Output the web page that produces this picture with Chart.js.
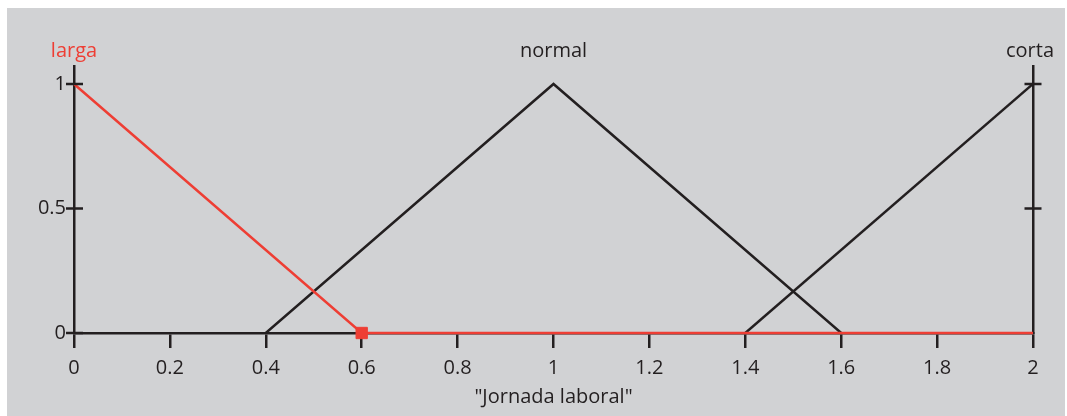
<!DOCTYPE html>
<html>
<head>
<meta charset="utf-8">
<script src="https://cdn.jsdelivr.net/npm/chart.js@4"></script>
<style>
    html, body { margin: 0; padding: 0; background: #ffffff; }
    #contenedor { position: relative; width: 1067px; height: 416px; }
    #fondo { position: absolute; left: 7px; top: 8px; width: 1058px; height: 408px; background: #d1d2d4; }
    #grafico { position: absolute; left: 0; top: 0; }
</style>
</head>
<body>
<div id="contenedor">
    <div id="fondo"></div>
    <canvas id="grafico" width="1067" height="416"></canvas>
</div>
<script>
const ROJO = '#ee3e34';
const NEGRO = '#231f20';
const FUENTE = '"Open Sans", sans-serif';

// datos (x, grado de pertenencia)
const largaX = [0, 0.6, 2];
const largaY = [1, 0, 0];
const normalX = [0.4, 1, 1.6];
const normalY = [0, 1, 0];
const cortaX = [1.4, 2];
const cortaY = [0, 1];

const etiquetas = ['larga', 'normal', 'corta'];
const posEtiquetas = [0, 1, 2];
const coloresEtiquetas = [ROJO, NEGRO, NEGRO];

const ticksX = [0, 0.2, 0.4, 0.6, 0.8, 1, 1.2, 1.4, 1.6, 1.8, 2];
const ticksY = [0, 0.5, 1];
const tituloX = '"Jornada laboral"';

const puntos = (xs, ys) => xs.map((x, i) => ({ x: x, y: ys[i] }));

// marcas en cruz sobre los ejes verticales
const marcasEjes = {
    id: 'marcasEjes',
    afterDraw(chart) {
        const { ctx, chartArea: { left, right }, scales: { y } } = chart;
        ctx.save();
        ctx.strokeStyle = NEGRO;
        ctx.lineWidth = 2.5;
        ticksY.forEach(v => {
            const py = y.getPixelForValue(v);
            ctx.beginPath();
            ctx.moveTo(left - 8, py);
            ctx.lineTo(left + 9, py);
            if (v !== 0) {
                ctx.moveTo(right - 8.5, py);
                ctx.lineTo(right + 8.5, py);
            }
            ctx.stroke();
        });
        // etiquetas de cada conjunto
        ctx.font = '20px ' + FUENTE;
        ctx.textAlign = 'center';
        ctx.textBaseline = 'middle';
        etiquetas.forEach((t, i) => {
            ctx.fillStyle = coloresEtiquetas[i];
            let px = chart.scales.x.getPixelForValue(posEtiquetas[i]);
            if (i === etiquetas.length - 1) px -= 3;
            ctx.fillText(t, px, y.getPixelForValue(1) - 33);
        });
        ctx.restore();
    }
};

new Chart(document.getElementById('grafico').getContext('2d'), {
    type: 'line',
    plugins: [marcasEjes],
    data: {
        datasets: [
            {
                data: puntos(largaX, largaY),
                borderColor: ROJO,
                backgroundColor: ROJO,
                pointBackgroundColor: ROJO,
                pointBorderColor: ROJO,
                borderWidth: 2.5,
                pointStyle: 'rect',
                pointRadius: c => c.dataIndex === 1 ? 8 : 0,
                pointBorderWidth: 1,
                clip: false,
                tension: 0
            },
            {
                data: puntos(normalX, normalY),
                borderColor: NEGRO,
                borderWidth: 2.5,
                pointRadius: 0,
                tension: 0
            },
            {
                data: puntos(cortaX, cortaY),
                borderColor: NEGRO,
                borderWidth: 2.5,
                pointRadius: 0,
                tension: 0
            }
        ]
    },
    options: {
        responsive: false,
        animation: false,
        layout: { padding: { top: 66, left: 0, right: 0, bottom: 0 } },
        plugins: {
            legend: { display: false },
            tooltip: { enabled: false }
        },
        scales: {
            x: {
                type: 'linear',
                min: 0,
                max: 2,
                afterBuildTicks: s => { s.ticks = ticksX.map(v => ({ value: v })); },
                afterFit: s => { s.height = 83; },
                ticks: {
                    color: NEGRO,
                    padding: 8,
                    maxRotation: 0,
                    font: { family: FUENTE, size: 20 },
                    callback: v => String(v)
                },
                grid: {
                    display: true,
                    drawOnChartArea: false,
                    drawTicks: true,
                    tickLength: 15,
                    color: NEGRO,
                    lineWidth: 2.5
                },
                border: { display: true, color: NEGRO, width: 2.5 },
                title: {
                    display: true,
                    text: tituloX,
                    color: NEGRO,
                    padding: { top: 0, bottom: 7 },
                    font: { family: FUENTE, size: 20 }
                }
            },
            y: {
                type: 'linear',
                position: 'left',
                min: 0,
                max: 1.072,
                afterBuildTicks: s => { s.ticks = ticksY.map(v => ({ value: v })); },
                afterFit: s => { s.width = 74; },
                ticks: {
                    color: NEGRO,
                    padding: 8,
                    font: { family: FUENTE, size: 20 },
                    callback: v => String(v)
                },
                grid: { display: false, drawTicks: false },
                border: { display: true, color: NEGRO, width: 2.5 }
            },
            y2: {
                type: 'linear',
                position: 'right',
                min: 0,
                max: 1.072,
                afterFit: s => { s.width = 34; },
                ticks: { display: false },
                grid: { display: false, drawTicks: false },
                border: { display: true, color: NEGRO, width: 2.5 }
            }
        }
    }
});
</script>
</body>
</html>
